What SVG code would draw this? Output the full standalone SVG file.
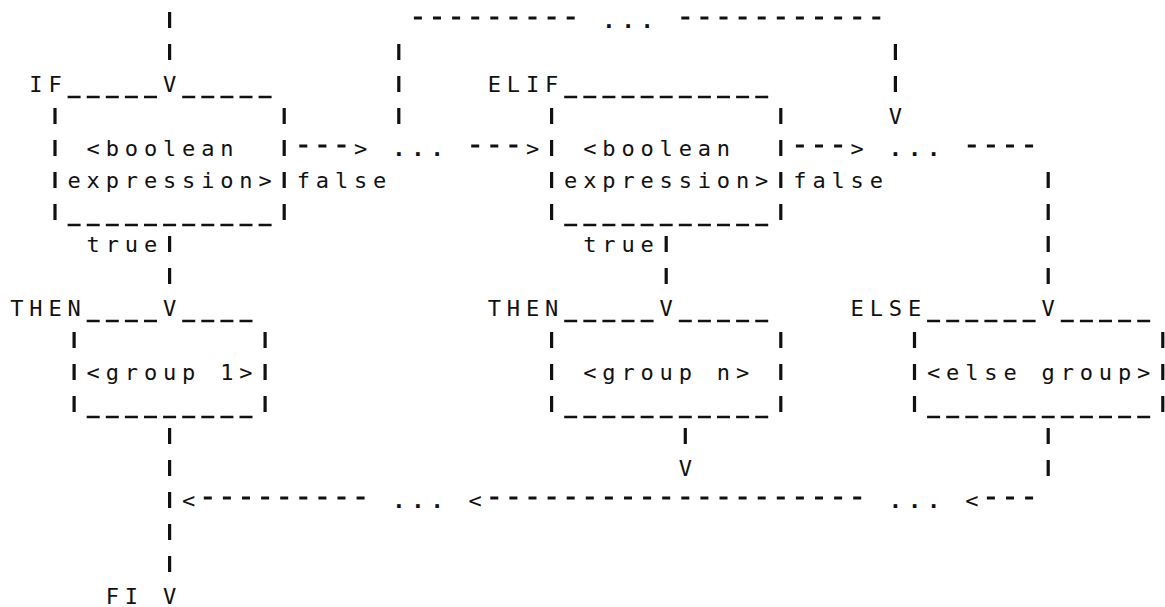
<svg xmlns="http://www.w3.org/2000/svg" width="1165" height="607" viewBox="0 0 1165 607">
  <style>
    .t { font-family: "DejaVu Sans Mono", "Liberation Mono", monospace; font-size: 22px; letter-spacing: 5.85px; fill: #111; }
    .dots { font-weight: bold; }
    .bar { stroke: #111; stroke-width: 3.2; stroke-dasharray: 16 16; fill: none; }
    .dash { stroke: #111; stroke-width: 3; stroke-dasharray: 8 11.1; fill: none; }
    .under { stroke: #111; stroke-width: 2.6; stroke-dasharray: 13 6.1; fill: none; }
  </style>
  <rect width="1165" height="607" fill="#fff"/>

  <!-- IF box -->
  <g id="if-box">
    <text class="t" x="29.3" y="92">IF</text>
    <line class="under" x1="67.6" y1="97" x2="157" y2="97"/>
    <line class="under" x1="182.2" y1="97" x2="271.6" y2="97"/>
    <line class="bar" x1="55" y1="108" x2="55" y2="220"/>
    <line class="bar" x1="284.2" y1="108" x2="284.2" y2="220"/>
    <text class="t" x="86.6" y="156">&lt;boolean</text>
    <text class="t" x="67.5" y="188">expression&gt;</text>
    <line class="under" x1="67.6" y1="225" x2="271.6" y2="225"/>
  </g>

  <!-- ELIF box -->
  <g id="elif-box">
    <text class="t" x="487.7" y="92">ELIF</text>
    <line class="under" x1="564.2" y1="97" x2="768.2" y2="97"/>
    <line class="bar" x1="551.6" y1="108" x2="551.6" y2="220"/>
    <line class="bar" x1="780.8" y1="108" x2="780.8" y2="220"/>
    <text class="t" x="583.2" y="156">&lt;boolean</text>
    <text class="t" x="564.1" y="188">expression&gt;</text>
    <line class="under" x1="564.2" y1="225" x2="768.2" y2="225"/>
  </g>

  <!-- THEN box, group 1 -->
  <g id="then-1">
    <text class="t" x="10.2" y="316">THEN</text>
    <line class="under" x1="86.7" y1="321" x2="157" y2="321"/>
    <line class="under" x1="182.2" y1="321" x2="252.5" y2="321"/>
    <line class="bar" x1="74.1" y1="332" x2="74.1" y2="412"/>
    <line class="bar" x1="265.1" y1="332" x2="265.1" y2="412"/>
    <text class="t" x="86.6" y="380">&lt;group 1&gt;</text>
    <line class="under" x1="86.7" y1="417" x2="252.5" y2="417"/>
  </g>

  <!-- THEN box, group n -->
  <g id="then-n">
    <text class="t" x="487.7" y="316">THEN</text>
    <line class="under" x1="564.2" y1="321" x2="653.6" y2="321"/>
    <line class="under" x1="678.8" y1="321" x2="768.2" y2="321"/>
    <line class="bar" x1="551.6" y1="332" x2="551.6" y2="412"/>
    <line class="bar" x1="780.8" y1="332" x2="780.8" y2="412"/>
    <text class="t" x="583.2" y="380">&lt;group n&gt;</text>
    <line class="under" x1="564.2" y1="417" x2="768.2" y2="417"/>
  </g>

  <!-- ELSE box -->
  <g id="else-box">
    <text class="t" x="850.6" y="316">ELSE</text>
    <line class="under" x1="927.1" y1="321" x2="1035.6" y2="321"/>
    <line class="under" x1="1060.8" y1="321" x2="1150.2" y2="321"/>
    <line class="bar" x1="914.5" y1="332" x2="914.5" y2="412"/>
    <line class="bar" x1="1162.8" y1="332" x2="1162.8" y2="412"/>
    <text class="t" x="927" y="380">&lt;else group&gt;</text>
    <line class="under" x1="927.1" y1="417" x2="1150.2" y2="417"/>
  </g>

  <!-- FI end point -->
  <g id="fi">
    <text class="t" x="105.7" y="604">FI</text>
  </g>

  <!-- flow lines, arrowheads and branch labels -->
  <g id="connectors">
    <!-- entry into IF -->
    <line class="bar" x1="169.6" y1="12" x2="169.6" y2="60"/>
    <text class="t" x="163" y="92">V</text>

    <!-- IF false to ELIF -->
    <line class="dash" x1="299.3" y1="146" x2="345.5" y2="146"/>
    <text class="t" x="354" y="156">&gt;</text>
    <text class="t dots" x="392.2" y="156">...</text>
    <line class="dash" x1="471.2" y1="146" x2="517.4" y2="146"/>
    <text class="t" x="525.9" y="156">&gt;</text>
    <text class="t" x="296.7" y="188">false</text>

    <!-- loop over further ELIF clauses -->
    <line class="bar" x1="398.8" y1="44" x2="398.8" y2="124"/>
    <line class="dash" x1="413.9" y1="18" x2="574.7" y2="18"/>
    <text class="t dots" x="602.3" y="28">...</text>
    <line class="dash" x1="681.3" y1="18" x2="880.3" y2="18"/>
    <line class="bar" x1="895.4" y1="44" x2="895.4" y2="92"/>
    <text class="t" x="888.8" y="124">V</text>

    <!-- ELIF false to ELSE -->
    <line class="dash" x1="795.9" y1="146" x2="842.1" y2="146"/>
    <text class="t" x="850.6" y="156">&gt;</text>
    <text class="t dots" x="888.8" y="156">...</text>
    <line class="dash" x1="967.8" y1="146" x2="1033.1" y2="146"/>
    <text class="t" x="793.3" y="188">false</text>
    <line class="bar" x1="1048.2" y1="172" x2="1048.2" y2="284"/>
    <text class="t" x="1041.6" y="316">V</text>

    <!-- true branches -->
    <text class="t" x="86.6" y="252">true</text>
    <line class="bar" x1="169.6" y1="236" x2="169.6" y2="284"/>
    <text class="t" x="163" y="316">V</text>
    <text class="t" x="583.2" y="252">true</text>
    <line class="bar" x1="666.2" y1="236" x2="666.2" y2="284"/>
    <text class="t" x="659.6" y="316">V</text>

    <!-- exits from the groups -->
    <line class="bar" x1="685.3" y1="428" x2="685.3" y2="444"/>
    <text class="t" x="678.7" y="476">V</text>
    <line class="bar" x1="1048.2" y1="428" x2="1048.2" y2="476"/>

    <!-- return path to FI -->
    <line class="dash" x1="986.9" y1="498" x2="1033.1" y2="498"/>
    <text class="t" x="965.2" y="508">&lt;</text>
    <text class="t dots" x="888.8" y="508">...</text>
    <line class="dash" x1="490.3" y1="498" x2="861.2" y2="498"/>
    <text class="t" x="468.6" y="508">&lt;</text>
    <text class="t dots" x="392.2" y="508">...</text>
    <line class="dash" x1="203.8" y1="498" x2="364.6" y2="498"/>
    <text class="t" x="182.1" y="508">&lt;</text>
    <line class="bar" x1="169.6" y1="428" x2="169.6" y2="572"/>
    <text class="t" x="163" y="604">V</text>
  </g>
</svg>
